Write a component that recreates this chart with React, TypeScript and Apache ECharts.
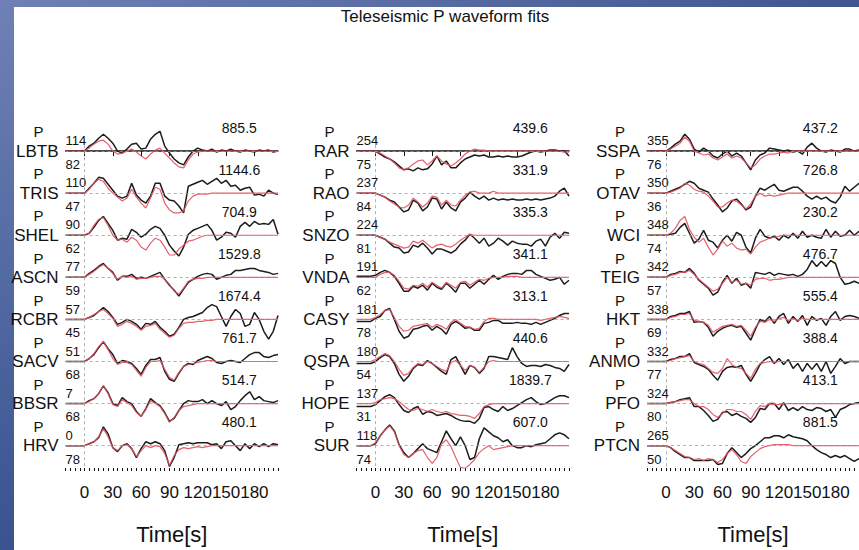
import React, { useEffect, useRef } from "react";
import * as echarts from "echarts";

const TITLE = "Teleseismic P waveform fits";
const AXIS_NAME = "Time[s]";
const TIME_START = -20;
const TIME_STEP = 5;
const TIME_END = 205;
const TICK_VALUES = [0, 30, 60, 90, 120, 150, 180];
const PEAK_LABEL_TIME = 164;
// vertical distance between neighbouring traces, in amplitude units
const TRACE_GAP = 42.6;

// ---- column 1 ----
const STATIONS_1 = ["LBTB", "TRIS", "SHEL", "ASCN", "RCBR", "SACV", "BBSR", "HRV"];
const AZIMUTH_1 = [114, 110, 90, 77, 57, 51, 7, 0];
const DISTANCE_1 = [82, 47, 62, 59, 45, 68, 68, 78];
const PEAK_1 = ["885.5", "1144.6", "704.9", "1529.8", "1674.4", "761.7", "514.7", "480.1"];
const OBS_1 = [
  [0,0,0,0, 0,5,8,13,17,13,8,0,-2,2,7,8,2,3,12,17,20,5,-2,-8,-12,-14,-6,0,3,1,0,2,-1,1,0,2,0,-1,1,0,-1,1,0,1,-1,0],
  [0,0,0,0, 0,5,10,16,15,9,3,-3,-5,-3,10,-2,-7,-10,-3,10,10,-3,-7,-8,-13,-20,7,9,11,13,9,12,15,10,13,7,8,3,5,6,-2,-1,-3,3,0,-1],
  [0,0,0,0, 0,2,8,15,19,12,5,-5,-3,-4,6,3,-2,1,6,9,7,0,-10,-16,-21,-12,1,5,7,9,11,5,-5,-2,3,2,-2,9,13,9,14,11,12,11,16,1],
  [0,0,0,0, 0,4,7,11,14,9,5,-3,1,1,3,-1,0,-1,1,3,5,-2,-8,-13,-19,-12,-5,-2,1,3,4,3,-2,0,2,3,7,7,8,9,9,7,6,5,3,4],
  [0,0,0,0, 0,2,4,8,12,8,2,-5,-3,0,-2,-5,-10,-4,-5,-2,-8,-12,-17,-15,-8,0,2,3,5,7,12,15,13,3,-7,3,10,6,-7,-5,7,0,-12,-20,-12,4],
  [0,0,0,0, 0,3,7,14,20,13,7,-2,1,0,-2,-7,-13,-4,2,2,4,-10,-18,-20,-12,-5,-2,-3,1,3,5,3,-1,-2,0,1,0,-1,3,7,9,9,5,4,6,7],
  [0,0,0,0, 0,3,5,10,18,11,0,-2,6,2,0,-8,-13,-5,5,1,-2,-9,-18,-15,-7,0,3,2,2,4,0,3,0,-2,2,-6,-3,3,8,12,4,7,3,2,1,3],
  [0,0,0,0, 0,2,4,8,19,12,-2,-6,0,2,-3,-12,-3,4,2,4,2,-5,-21,-12,1,2,3,2,3,3,3,1,2,-3,4,5,0,-5,2,-3,2,-1,2,-1,2,1],
];
const SYN_1 = [
  [0,0,0,0, 0,3,7,10,11,7,0,-3,-2,0,2,-1,-5,-8,-3,1,3,-2,-7,-12,-16,-17,-9,-3,-1, 0,0,0,0,0,0,0,0,0,0,0,0,0,0,0,0,0],
  [0,0,0,0, 0,4,10,14,12,5,0,-4,-8,-5,4,-4,-10,-15,-5,6,4,-10,-17,-20,-20,-18,-8,-3,-1, -1,-1,0,0,0,0,0,0,0,0,0,0,0,0,0,0,0],
  [0,0,0,0, 0,2,10,16,18,10,0,-5,-4,-7,-2,-5,-12,-15,-8,-3,-5,-12,-20,-20,-14,-10,-6,-5,-3, -1,0,0,0,0,0,0,0,0,0,0,0,0,0,0,0,0],
  [0,0,0,0, 0,3,6,10,13,9,4,-2,1,0,1,-2,-1,-1,0,1,1,-2,-7,-14,-17,-11,-4,-2,-1, -1,0,0,0,0,0,0,0,0,0,0,0,0,0,0,0,0],
  [0,0,0,0, 0,2,5,8,10,6,1,-7,-5,-2,-4,-7,-11,-7,-6,-4,-10,-14,-18,-16,-9,-4,-3,-3,-2, -2,-1,-1,0,0,0,0,0,0,0,0,0,0,0,0,0,0],
  [0,0,0,0, 0,3,8,15,20,12,3,-3,-1,-1,-3,-9,-15,-6,0,0,1,-8,-16,-19,-11,-5,-3,-2,-1, 0,1,1,0,0,0,0,0,0,0,0,0,0,0,0,0,0],
  [0,0,0,0, 0,2,5,10,18,10,-1,-3,4,1,-2,-9,-13,-6,3,0,-3,-10,-19,-14,-7,-3,-2,-1,0, 0,0,0,0,0,0,0,0,0,0,0,0,0,0,0,0,0],
  [0,0,0,0, 0,2,4,9,17,9,-2,-5,0,1,-3,-11,-5,0,-2,0,-1,-8,-20,-10,-4,-2,-3,-2,-1, -2,-1,0,0,0,0,0,0,0,0,0,0,0,0,0,0,0],
];

// ---- column 2 ----
const STATIONS_2 = ["RAR", "RAO", "SNZO", "VNDA", "CASY", "QSPA", "HOPE", "SUR"];
const AZIMUTH_2 = [254, 237, 224, 191, 181, 180, 137, 118];
const DISTANCE_2 = [75, 84, 81, 62, 78, 54, 31, 74];
const PEAK_2 = ["439.6", "331.9", "335.3", "341.1", "313.1", "440.6", "1839.7", "607.0"];
const OBS_2 = [
  [0,0,0,0, 0,-3,-6,-8,-11,-15,-19,-18,-20,-17,-19,-18,-13,-5,-14,-10,-17,-17,-12,-8,-6,-4,-5,-4,-6,-6,-5,-6,-5,-6,-6,-5,-3,-1,0,-1,0,1,1,0,0,-5],
  [0,0,0,0, 0,-2,-4,-7,-9,-14,-19,-17,-7,-10,-18,-14,-5,-6,-16,-9,-15,-18,-9,-5,1,-3,-6,-3,-7,-5,-7,-6,-7,-6,-7,-7,-6,-7,-6,-7,-6,-5,-3,2,5,-3],
  [0,0,0,0, 0,-2,-4,-8,-12,-13,-18,-17,-10,-12,-8,-13,-19,-14,-14,-16,-18,-15,-9,-5,1,-3,-8,-3,-11,-8,-3,-6,-10,-6,-8,-9,-9,-11,-6,-4,-11,-2,2,-3,3,2],
  [1,1,1,1, 2,5,7,5,1,-6,-14,-14,-9,-11,-8,-13,-6,-10,-12,-6,-10,-15,-6,-6,-11,-7,-3,-7,-2,2,-2,1,3,4,4,3,7,7,3,1,-1,-3,-2,0,-7,-3],
  [-2,-2,-2,-2, 1,3,9,11,0,-12,-19,-17,-10,-9,-7,-6,-11,-7,-10,-15,-5,-2,-5,-9,-8,-11,-11,-4,-3,-1,-1,-4,-4,-4,-3,-4,-4,-5,-3,-5,-3,-1,1,4,6,6],
  [-2,-2,-2,-2, 0,4,7,5,-2,-13,-20,-15,-7,-3,-4,1,-2,-6,-10,-13,2,5,-4,-13,-4,-6,-12,-7,5,5,4,3,2,14,5,-2,-5,-4,-4,-5,-3,-4,-6,-7,-10,-3],
  [-3,-3,-3,-3, -1,3,7,9,6,-1,-7,-9,-5,-3,-11,-8,-9,-12,-11,-10,-12,-15,-17,-18,-18,-20,-15,-4,-3,-6,-8,-3,-7,-5,-2,1,4,6,2,-1,0,3,6,8,8,6],
  [0,0,0,0, 2,10,16,21,15,1,-7,-12,-8,-3,2,-3,-5,-7,4,15,7,0,9,0,-14,-12,7,18,14,10,8,4,6,0,-2,-2,0,-1,1,2,3,7,11,13,11,7],
];
const SYN_2 = [
  [0,0,0,0, 0,-2,-5,-8,-12,-17,-19,-17,-13,-10,-9,-14,-10,-5,-10,-13,-15,-12,-8,-3,0,2,1,1,0, 0,0,0,0,0,0,0,0,0,0,0,0,0,0,0,-1,-1],
  [0,0,0,0, 0,-2,-4,-8,-11,-14,-15,-12,-5,-9,-14,-10,-3,-4,-12,-7,-12,-13,-7,-2,1,2,0,0,0, 2,0,0,0,0,0,0,0,0,0,0,0,0,0,0,0,0],
  [0,0,0,0, 0,-2,-4,-7,-9,-11,-13,-12,-6,-8,-5,-9,-13,-10,-9,-11,-12,-9,-5,-2,1,0,0,0,0, 0,0,0,0,0,0,0,0,0,0,0,0,0,0,0,0,0],
  [0,0,0,0, 0,3,5,5,2,-4,-11,-12,-8,-9,-6,-10,-5,-8,-11,-5,-8,-11,-5,-4,-8,-5,-2,-3,-1, 0,0,0,1,1,1,0,0,0,0,0,0,0,0,0,0,0],
  [0,0,0,0, 2,5,9,10,2,-7,-12,-11,-7,-6,-5,-4,-8,-5,-7,-10,-3,0,-4,-7,-8,-10,-9,-2,1, 1,0,0,0,0,0,0,0,0,0,-1,0,1,2,3,2,1],
  [0,0,0,0, 2,5,8,6,0,-8,-14,-12,-6,-2,-3,0,-2,-5,-8,-10,-1,1,-4,-9,-4,-6,-11,-6,0, 1,0,0,0,0,0,0,0,0,0,0,0,0,0,0,0,0],
  [0,0,0,0, 1,4,5,6,5,2,-2,-6,-7,-5,-6,-8,-6,-8,-9,-8,-10,-11,-12,-12,-13,-15,-10,-3,-1, 0,0,0,0,0,0,0,0,0,0,0,0,0,0,0,0,0],
  [0,0,0,0, 3,10,16,20,14,0,-9,-12,-8,-5,-4,-12,-18,-12,2,6,-1,-12,-22,-23,-19,-14,-7,-3,0,-4,-3,-2,-1,0, 0,0,0,0,0,0,0,0,0,0,0,0],
];

// ---- column 3 ----
const STATIONS_3 = ["SSPA", "OTAV", "WCI", "TEIG", "HKT", "ANMO", "PFO", "PTCN"];
const AZIMUTH_3 = [355, 350, 348, 342, 338, 332, 324, 265];
const DISTANCE_3 = [76, 36, 74, 57, 69, 77, 80, 50];
const PEAK_3 = ["437.2", "726.8", "230.2", "476.7", "555.4", "388.4", "413.1", "881.5"];
const OBS_3 = [
  [0,0,0,0, 0,3,7,10,17,12,2,-1,3,0,-5,-7,-3,0,-5,-2,-5,-12,-19,-9,-4,-2,3,2,1,0,1,-1,0,-3,4,8,3,0,-1,1,0,-1,2,2,0,1],
  [0,0,0,0, 0,2,4,6,9,12,10,5,3,1,-6,-12,-19,-15,-8,-6,-11,-17,-14,-3,5,3,6,9,3,2,4,6,6,2,-3,-6,-3,-6,-4,-8,-10,-4,7,2,6,10],
  [0,0,0,0, 0,1,2,8,12,2,-8,-4,5,-5,-7,-13,-5,0,-6,3,0,-12,-18,-3,6,-1,-3,-1,-5,0,-3,2,-3,4,-2,0,-2,-3,6,-2,4,-1,0,5,0,4],
  [0,0,0,0, 0,3,4,6,5,9,4,-3,-7,-11,-18,-15,-5,2,-6,-1,-8,-6,-11,5,4,3,5,2,4,3,2,3,1,3,8,17,11,16,11,17,14,0,-7,-6,-4,-6],
  [0,0,0,0, 0,3,4,6,6,8,-3,-2,-3,-8,-17,-12,-9,-7,-6,-8,-7,-14,-21,-10,0,-2,3,-4,3,6,-4,3,-2,4,-6,3,-1,1,-6,3,8,-1,3,4,3,1],
  [0,0,0,0, 0,2,3,5,5,8,-1,-3,-5,-8,-14,-19,-10,-6,-5,-6,-4,-13,-20,-12,-3,2,5,-2,3,-3,2,-7,-2,-10,-2,-8,-2,-10,0,-12,-5,3,-2,0,0,0],
  [0,0,0,0, 0,1,2,4,5,6,-3,-3,-7,-12,-18,-16,-9,-8,-12,-10,-13,-15,-19,-14,-5,-6,0,0,-6,1,-7,-4,-7,-3,-6,-7,-4,-5,-8,-6,-14,-6,-4,-1,0,1],
  [0,0,0,0, 0,-2,-6,-9,-12,-12,-15,-15,-15,-15,-14,-19,-18,-8,-2,-7,-12,-8,-3,0,4,8,8,10,10,8,11,9,8,7,5,0,-4,-7,-9,-12,-10,-12,-10,-13,-16,-13],
];
const SYN_3 = [
  [0,0,0,0, 0,2,5,8,14,10,0,-2,-4,-3,-7,-9,-6,-3,-7,-5,-7,-12,-17,-14,-8,-5,-3,-3,-2, -1,-2,0,0,0,0,0,0,0,0,0,0,0,0,0,0,0],
  [0,0,0,0, 0,1,3,5,10,8,4,2,1,-3,-8,-14,-14,-10,-7,-8,-12,-16,-11,-3,0,-3,-2,-3,-2, -1,0,0,0,0,0,0,0,0,0,0,0,0,0,0,0,0],
  [0,0,0,0, 0,2,7,15,19,6,-2,-7,-3,-12,-20,-14,-6,-11,-8,-13,-15,-14,-19,-12,-7,-5,-3,-2,-1, 0,0,0,0,0,0,0,0,0,0,0,0,0,0,0,0,0],
  [0,0,0,0, 0,2,3,5,5,7,3,-2,-6,-10,-14,-12,-6,0,-5,-3,-7,-6,-8,-2,-1,-1,-3,-2,-2, -1,0,0,0,0,0,0,0,0,0,0,0,0,0,0,0,0],
  [0,0,0,0, 0,2,3,5,5,6,-1,-2,-3,-6,-13,-10,-7,-6,-5,-7,-6,-11,-17,-8,-2,-3,0,-2,1, 2,-1,1,-1,1,0,0,0,0,0,0,0,0,0,0,0,0],
  [0,0,0,0, 0,1,3,4,5,6,0,-2,-3,-7,-11,-12,-7,3,-3,-6,-7,-12,-17,-8,-2,-1,0,-1,0, 0,0,0,0,0,0,0,0,0,0,0,0,0,0,0,0,0],
  [0,0,0,0, 0,1,2,3,4,4,0,-3,-3,-6,-11,-14,-10,-6,-6,-8,-8,-11,-16,-8,-2,-3,0,-1,-1, 0,0,0,0,0,0,0,0,0,0,0,0,0,0,0,0,0],
  [0,0,0,0, 0,-2,-5,-8,-11,-12,-14,-13,-15,-13,-14,-17,-14,-8,-4,-9,-16,-18,-11,-7,-3,-1,0,1,1, 1,1,0,0,0,0,0,0,0,0,0,0,0,0,0,0,0],
];

const COLUMNS = [
  { stations: STATIONS_1, azimuth: AZIMUTH_1, distance: DISTANCE_1, peak: PEAK_1, obs: OBS_1, syn: SYN_1 },
  { stations: STATIONS_2, azimuth: AZIMUTH_2, distance: DISTANCE_2, peak: PEAK_2, obs: OBS_2, syn: SYN_2 },
  { stations: STATIONS_3, azimuth: AZIMUTH_3, distance: DISTANCE_3, peak: PEAK_3, obs: OBS_3, syn: SYN_3 },
];

const FONT = "'Liberation Sans', Arial, Helvetica, sans-serif";
const INK = "#111111";
const OBS_COLOR = "#1c1c1c";
const SYN_COLOR = "#e2505e";
const GUIDE_COLOR = "#9c9c9c";

// panel geometry
const GRID_LEFTS = [65.6, 356.6, 647.1];
const GRID_WIDTH = 212.4;
const GRID_TOP = 100;
const GRID_HEIGHT = 372.5;
const Y_MAX = 51.7;
const Y_MIN = -(7 * TRACE_GAP + 22.6);

function toSeriesData(values: number[], base: number) {
  return values.map((v, k) => [TIME_START + k * TIME_STEP, base + v]);
}

function buildOption() {
  const grid: any[] = [];
  const xAxis: any[] = [];
  const yAxis: any[] = [];
  const series: any[] = [];

  COLUMNS.forEach((col, c) => {
    grid.push({ left: GRID_LEFTS[c], top: GRID_TOP, width: GRID_WIDTH, height: GRID_HEIGHT, containLabel: false });
    xAxis.push({
      type: "value",
      gridIndex: c,
      min: TIME_START,
      max: TIME_END,
      position: "bottom",
      axisLine: { lineStyle: { color: INK, width: 1.5 } },
      axisTick: { customValues: TICK_VALUES, length: 5, lineStyle: { color: INK, width: 1 } },
      axisLabel: {
        customValues: TICK_VALUES,
        fontSize: 17,
        color: INK,
        margin: 16,
        fontFamily: FONT,
        hideOverlap: false,
        showMinLabel: true,
        showMaxLabel: true,
      },
      splitLine: { show: false },
      name: AXIS_NAME,
      nameLocation: "middle",
      nameGap: 55,
      nameTextStyle: { fontSize: 22, color: INK, fontFamily: FONT },
    });
    xAxis.push({
      type: "value",
      gridIndex: c,
      min: TIME_START,
      max: TIME_END,
      interval: TIME_STEP,
      position: "bottom",
      axisLine: { show: false },
      axisTick: { length: 3, lineStyle: { color: INK, width: 1 } },
      axisLabel: { show: false },
      splitLine: { show: false },
    });
    yAxis.push({ type: "value", gridIndex: c, min: Y_MIN, max: Y_MAX, show: false });

    const bases = col.stations.map((_, i) => -i * TRACE_GAP);

    // dashed baselines and the t = 0 reference
    series.push({
      type: "line",
      xAxisIndex: 2 * c,
      yAxisIndex: c,
      data: [[TIME_START, 0]],
      showSymbol: false,
      lineStyle: { opacity: 0 },
      z: 1,
      silent: true,
      markLine: {
        silent: true,
        symbol: ["none", "none"],
        label: { show: false },
        lineStyle: { color: GUIDE_COLOR, type: [3, 3], width: 0.8 },
        data: [
          ...bases.map((b) => ({ yAxis: b })),
          [{ coord: [0, 12] }, { coord: [0, Y_MIN] }],
        ],
      },
    });

    col.stations.forEach((name, i) => {
      const base = bases[i];
      const txt = (formatter: string, position: string, distance: number, fontSize: number) => ({
        show: true,
        formatter,
        position,
        distance,
        fontSize,
        color: INK,
        fontFamily: FONT,
      });
      series.push({
        type: "line",
        name: name + " observed",
        xAxisIndex: 2 * c,
        yAxisIndex: c,
        data: toSeriesData(col.obs[i], base),
        showSymbol: false,
        symbol: "none",
        lineStyle: { color: OBS_COLOR, width: 1.5 },
        z: 2,
        silent: true,
        markPoint: {
          symbol: "circle",
          symbolSize: 0,
          silent: true,
          data: [
            { coord: [TIME_START, base], label: txt(name, "left", 7, 17) },
            { coord: [TIME_START, base + 19.5], label: txt("P", "left", 22, 15) },
            { coord: [TIME_START, base + 10.5], label: txt(String(col.azimuth[i]), "right", 0, 13) },
            { coord: [TIME_START, base - 13.5], label: txt(String(col.distance[i]), "right", 0, 13) },
            { coord: [PEAK_LABEL_TIME, base + 23.5], label: txt(col.peak[i], "inside", 0, 14) },
          ],
        },
      });
      series.push({
        type: "line",
        name: name + " synthetic",
        xAxisIndex: 2 * c,
        yAxisIndex: c,
        data: toSeriesData(col.syn[i], base),
        showSymbol: false,
        symbol: "none",
        lineStyle: { color: SYN_COLOR, width: 1.2, opacity: 0.9 },
        z: 3,
        silent: true,
      });
    });
  });

  const leftBand = new echarts.graphic.LinearGradient(0, 0, 0, 1, [
    { offset: 0, color: "#6f80b6" },
    { offset: 1, color: "#38538f" },
  ]);
  const topBand = new echarts.graphic.LinearGradient(0, 0, 1, 0, [
    { offset: 0, color: "#6f80b6" },
    { offset: 1, color: "#40568f" },
  ]);

  return {
    animation: false,
    backgroundColor: "#ffffff",
    textStyle: { fontFamily: FONT },
    graphic: [
      { type: "rect", shape: { x: 0, y: 0, width: 14, height: 550 }, style: { fill: leftBand }, silent: true },
      { type: "rect", shape: { x: 0, y: 0, width: 859, height: 7 }, style: { fill: topBand }, silent: true },
      {
        type: "text",
        x: 445,
        y: 16,
        silent: true,
        style: { text: TITLE, fontSize: 17, fontFamily: FONT, fill: INK, align: "center", verticalAlign: "middle" },
      },
    ],
    grid,
    xAxis,
    yAxis,
    series,
  };
}

export default function App() {
  const ref = useRef<HTMLDivElement | null>(null);
  useEffect(() => {
    if (!ref.current) return;
    const chart = echarts.init(ref.current, undefined, { renderer: "svg" });
    chart.setOption(buildOption() as any);
    return () => chart.dispose();
  }, []);
  return (
    <div
      ref={ref}
      style={{ position: "absolute", left: 0, top: 0, width: 859, height: 550, background: "#fff" }}
    />
  );
}
